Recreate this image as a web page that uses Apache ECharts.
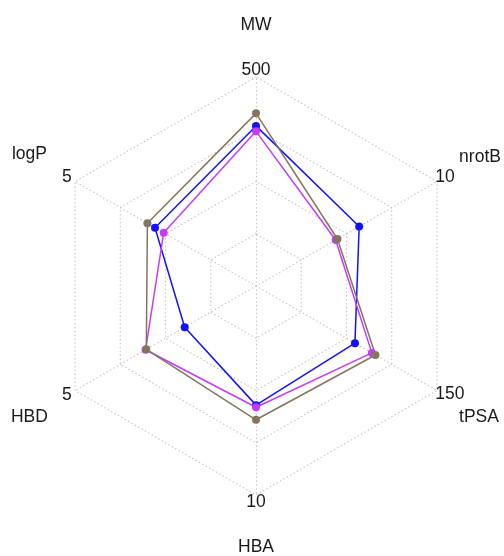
<!DOCTYPE html>
<html>
<head>
<meta charset="utf-8">
<script src="https://cdn.jsdelivr.net/npm/echarts@6/dist/echarts.min.js"></script>
<style>html,body{margin:0;padding:0;background:#fff}#c{width:504px;height:556px}</style>
</head>
<body>
<div id="c"></div>
<script>
// ---- data ----
const indicatorNames = ['MW', 'logP', 'HBD', 'HBA', 'tPSA', 'nrotB'];
const maxValues = [500, 5, 5, 10, 150, 10];
const maxLabels = ['500', '5', '5', '10', '150', '10'];
const seriesBlue = [383, 2.79, 1.97, 5.7, 82, 5.7];
const seriesMagenta = [370, 2.55, 3.05, 5.8, 96, 4.4];
const seriesBrown = [413, 3.0, 3.03, 6.4, 99, 4.5];

// ---- styles ----
const FONT = '"Liberation Sans", Arial, sans-serif';
const TXT = '#1a1a1a';
const CENTER = [256, 286];
const RADIUS = 209;
const namePad = {            // shifts for indicator names
  MW: [0, 0, 0, 0], HBA: [0, 0, 0, 0],
  nrotB: [0, 0, 24, 0], tPSA: [28, 0, 0, 0],
  HBD: [27, 5, 0, 0], logP: [0, 6, 30, 0]
};
const maxPad = [[0, 0, 0, 0], [0, 5, 11, 0], [11, 5, 0, 0], [0, 0, 0, 0], [9, 0, 0, 0], [0, 0, 10, 0]];

const indicators = indicatorNames.map((n, i) => ({ name: n, max: maxValues[i], min: 0 }));
const gridLine = { color: '#c4c4c4', width: 1.3, type: [0.3, 3.6], cap: 'round' };

function richFor(keys, pads) {
  const r = {};
  keys.forEach((k, i) => { r['s' + i] = { fontSize: 17.5, fontFamily: FONT, color: TXT, padding: pads[i] }; });
  return r;
}
const namePads = indicatorNames.map(n => namePad[n]);
const topBottom = ['MW', 'HBA'];

const hiddenRadar = {
  center: CENTER, radius: RADIUS, shape: 'polygon', splitNumber: 4,
  indicator: indicators,
  splitLine: { show: false }, axisLine: { show: false }, splitArea: { show: false }, axisTick: { show: false }
};

const option = {
  animation: false,
  backgroundColor: '#fff',
  radar: [
    {
      center: CENTER, radius: RADIUS, shape: 'polygon', splitNumber: 4,
      indicator: indicators,
      splitLine: { lineStyle: gridLine },
      axisLine: { lineStyle: gridLine },
      splitArea: { show: false },
      nameGap: 43,
      axisName: {
        color: TXT, fontSize: 17.5, fontFamily: FONT,
        formatter: (name) => {
          const i = indicatorNames.indexOf(name);
          return topBottom.includes(name) ? '{s' + i + '|' + name + '}' : '';
        },
        rich: richFor(indicatorNames, namePads)
      }
    },
    Object.assign({}, hiddenRadar, {
      nameGap: 25.5,
      axisName: {
        color: TXT, fontSize: 17.5, fontFamily: FONT,
        formatter: (name) => {
          const i = indicatorNames.indexOf(name);
          return topBottom.includes(name) ? '' : '{s' + i + '|' + name + '}';
        },
        rich: richFor(indicatorNames, namePads)
      }
    }),
    Object.assign({}, hiddenRadar, {
      nameGap: -2,
      axisName: {
        color: TXT, fontSize: 17.5, fontFamily: FONT,
        formatter: (name) => {
          const i = indicatorNames.indexOf(name);
          return '{s' + i + '|' + maxLabels[i] + '}';
        },
        rich: richFor(maxLabels, maxPad)
      }
    })
  ],
  series: [
    { name: 'blue', color: '#1212ff' },
    { name: 'magenta', color: '#c43cfa' },
    { name: 'brown', color: '#857560' }
  ].map((s, k) => ({
    type: 'radar', radarIndex: 0, name: s.name,
    symbol: 'circle', symbolSize: 8,
    lineStyle: { color: s.color, width: 1.5 },
    itemStyle: { color: s.color },
    emphasis: { disabled: true },
    data: [{ value: [seriesBlue, seriesMagenta, seriesBrown][k] }]
  }))
};

const chart = echarts.init(document.getElementById('c'), null, { renderer: 'canvas' });
chart.setOption(option);
</script>
</body>
</html>
